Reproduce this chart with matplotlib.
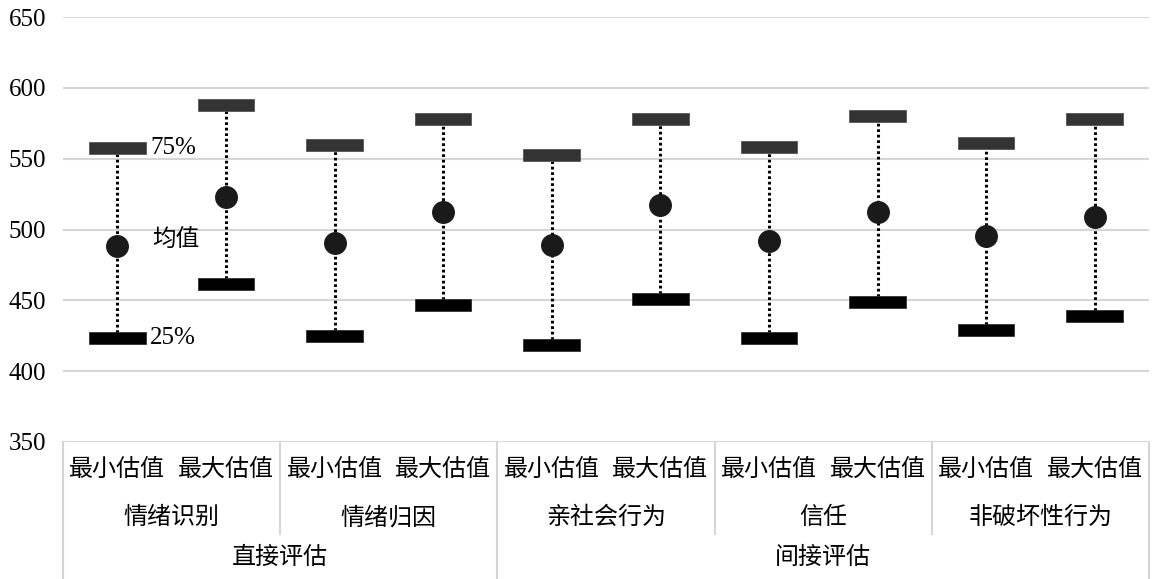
import matplotlib
matplotlib.use("Agg")
import matplotlib.pyplot as plt

plt.rcParams['font.family'] = ['Liberation Serif', 'Noto Sans CJK SC', 'DejaVu Sans']

# values
sub_labels = ['最小估值', '最大估值'] * 5
mid_labels = ['情绪识别', '情绪归因', '亲社会行为', '信任', '非破坏性行为']
top_labels = ['直接评估', '间接评估']
top_spans = [(0, 4), (4, 10)]   # category index ranges of each top group

q75 = [557.6, 587.7, 559.4, 578.1, 552.8, 578.3, 558.0, 579.9, 561.0, 577.8]
means = [488.1, 522.8, 490.7, 512.2, 489.3, 517.4, 492.1, 512.6, 495.6, 508.7]
q25 = [423.2, 461.4, 424.8, 446.6, 418.5, 450.8, 423.2, 448.5, 428.9, 439.0]

yticks = [350, 400, 450, 500, 550, 600, 650]

W, H = 1153, 579
fig = plt.figure(figsize=(W / 100, H / 100), dpi=100)
left, right, top, bottom = 63, 1149, 17, 442
ax = fig.add_axes([left / W, 1 - bottom / H, (right - left) / W, (bottom - top) / H])

x = list(range(len(q75)))
grid_c = '#d6d6d6'

# dotted range lines
ax.vlines(x, q25, q75, colors='black', linestyles=(0, (0.9, 0.9)), lw=2.2, zorder=2)

# 75% / 25% bars (drawn as short thick rectangles)
bar_w, bar_h = 0.52, 8.5
ax.bar(x, bar_h, bottom=[v - bar_h / 2 for v in q75], width=bar_w,
       color='#333333', edgecolor='#555555', lw=0.6, zorder=3)
ax.bar(x, bar_h, bottom=[v - bar_h / 2 for v in q25], width=bar_w,
       color='black', edgecolor='#333333', lw=0.6, zorder=3)

# means
ax.plot(x, means, 'o', ms=15.5, color='#1a1a1a', zorder=4)

ax.set_xlim(-0.5, len(x) - 0.5)
ax.set_ylim(350, 650)
ax.set_yticks(yticks)
ax.set_xticks([])
ax.yaxis.grid(True, color=grid_c, lw=1.5)
ax.set_axisbelow(True)
for s in ax.spines.values():
    s.set_visible(False)
ax.tick_params(axis='y', length=0, pad=12, labelsize=18)

# legend-like labels beside the first category
ax.text(0.30, 557.7, '75%', fontsize=18, va='center', ha='left')
ax.text(0.32, 492.0, '均值', fontsize=17, va='center', ha='left')
ax.text(0.30, 423.2, '25%', fontsize=18, va='center', ha='left')

# multi-level category axis below the plot
tr = ax.get_xaxis_transform()
ph = bottom - top
def fy(py):
    return -(py - bottom) / ph

fs = 17.3
for i, lab in enumerate(sub_labels):
    ax.text(i, fy(470), lab, transform=tr, ha='center', va='center', fontsize=fs)
for j, lab in enumerate(mid_labels):
    ax.text(2 * j + 0.5, fy(518), lab, transform=tr, ha='center', va='center', fontsize=fs)
for (a, b), lab in zip(top_spans, top_labels):
    ax.text((a + b - 1) / 2, fy(558), lab, transform=tr, ha='center', va='center', fontsize=fs)

# table lines
for j in range(len(mid_labels) + 1):
    xd = 2 * j - 0.5
    full = any(xd == a - 0.5 for a, b in top_spans) or xd == len(x) - 0.5
    yb = fy(H + 2) if full else fy(534)
    ax.plot([xd, xd], [0, yb], transform=tr, color=grid_c, lw=1.5, clip_on=False)

fig.savefig('out.png', dpi=100)
